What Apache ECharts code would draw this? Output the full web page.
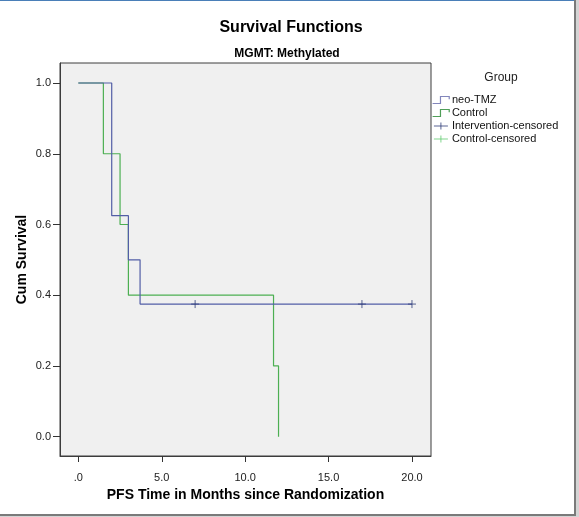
<!DOCTYPE html>
<html>
<head>
<meta charset="utf-8">
<script src="https://cdn.jsdelivr.net/npm/echarts@6/dist/echarts.min.js"></script>
<style>
html,body{margin:0;padding:0;background:#fff;}
#chart{width:579px;height:517px;}
</style>
</head>
<body>
<div id="chart"></div>
<script>
// Kaplan-Meier step data (time in months, cumulative survival)
var tmzTimes = [0, 2.0, 3.0, 3.7, 20.0];
var tmzSurv  = [1.0, 0.625, 0.5, 0.375, 0.375];
var ctrlTimes = [0, 1.5, 2.5, 3.0, 11.7, 12.0];
var ctrlSurv  = [1.0, 0.8, 0.6, 0.4, 0.2, 0.0];
var tmzCensorTimes = [7.0, 17.0, 20.0];
var tmzCensorSurv  = [0.375, 0.375, 0.375];
var ctrlCensorTimes = [];
var ctrlCensorSurv  = [];
var xTicks = [0, 5, 10, 15, 20];
var yTicks = [0, 0.2, 0.4, 0.6, 0.8, 1.0];
var seriesNames = ['neo-TMZ', 'Control', 'Intervention-censored', 'Control-censored'];

function pairs(xs, ys) { return xs.map(function (x, i) { return [x, ys[i]]; }); }

var FONT = 'Liberation Sans, Arial, sans-serif';
var BLUE = '#525ea6', GREEN = '#4caf52';
var BLUE_LEG = '#8286bb', GREEN_LEG = '#4f9e58', NAVY = '#2f3d78', LGREEN = '#62cc70';
var STEP = 'path://M0,8 H9 V0 H19 V3';
var PLUS = 'path://M0,5 H20 M10,0 V10';

var chart = echarts.init(document.getElementById('chart'));
chart.setOption({
  backgroundColor: '#ffffff',
  animation: false,
  title: [
    { text: 'Survival Functions', left: 286, top: 15, textAlign: 'center',
      textStyle: { fontFamily: FONT, fontSize: 16, fontWeight: 'bold', color: '#000' } },
    { text: 'MGMT: Methylated', left: 282, top: 43, textAlign: 'center',
      textStyle: { fontFamily: FONT, fontSize: 12, fontWeight: 'bold', color: '#000' } },
    { text: 'Group', left: 496, top: 67, textAlign: 'center',
      textStyle: { fontFamily: FONT, fontSize: 12, fontWeight: 'normal', color: '#222' } }
  ],
  legend: {
    orient: 'vertical', left: 432, top: 94, padding: 0,
    itemWidth: 20, itemHeight: 7, itemGap: 1,
    textStyle: { fontFamily: FONT, fontSize: 11, color: '#111', padding: [0, 0, 0, -4], lineHeight: 12 },
    data: [
      { name: seriesNames[0], icon: STEP, itemStyle: { color: 'transparent', borderColor: BLUE_LEG, borderWidth: 1.2 } },
      { name: seriesNames[1], icon: STEP, itemStyle: { color: 'transparent', borderColor: GREEN_LEG, borderWidth: 1.2 } },
      { name: seriesNames[2], icon: PLUS, itemStyle: { color: 'transparent', borderColor: NAVY, borderWidth: 1 } },
      { name: seriesNames[3], icon: PLUS, itemStyle: { color: 'transparent', borderColor: LGREEN, borderWidth: 1 } }
    ]
  },
  grid: {
    left: 60, top: 63, width: 371, height: 393,
    show: true, backgroundColor: '#f0f0f0', borderColor: '#3c3c3c', borderWidth: 1
  },
  xAxis: {
    type: 'value', min: -1.1, max: 21.14,
    name: 'PFS Time in Months since Randomization', nameLocation: 'middle', nameGap: 32,
    nameMoveOverlap: false,
    nameTextStyle: { fontFamily: FONT, fontSize: 14, fontWeight: 'bold', color: '#000' },
    axisLine: { show: true, onZero: false, lineStyle: { color: '#3c3c3c' } },
    axisTick: { show: true, length: 6, customValues: xTicks, lineStyle: { color: '#333' } },
    axisLabel: { customValues: xTicks, margin: 16, fontFamily: FONT, fontSize: 11, color: '#222',
      formatter: function (v) { return v === 0 ? '.0' : v.toFixed(1); } },
    splitLine: { show: false }
  },
  yAxis: {
    type: 'value', min: -0.0546, max: 1.0566,
    name: 'Cum Survival', nameLocation: 'middle', nameGap: 31,
    nameMoveOverlap: false,
    nameTextStyle: { fontFamily: FONT, fontSize: 14, fontWeight: 'bold', color: '#000' },
    axisLine: { show: true, onZero: false, lineStyle: { color: '#3c3c3c' } },
    axisTick: { show: true, length: 7, customValues: yTicks, lineStyle: { color: '#333' } },
    axisLabel: { customValues: yTicks, margin: 9, fontFamily: FONT, fontSize: 11, color: '#222',
      formatter: function (v) { return v.toFixed(1); } },
    splitLine: { show: false }
  },
  series: [
    { name: seriesNames[0], type: 'line', step: 'end', data: pairs(tmzTimes, tmzSurv),
      showSymbol: false, symbol: 'none', lineStyle: { color: BLUE, width: 1.2 }, itemStyle: { color: BLUE }, z: 3 },
    { name: seriesNames[1], type: 'line', step: 'end', data: pairs(ctrlTimes, ctrlSurv),
      showSymbol: false, symbol: 'none', lineStyle: { color: GREEN, width: 1.2 }, itemStyle: { color: GREEN }, z: 2 },
    { name: seriesNames[2], type: 'scatter', data: pairs(tmzCensorTimes, tmzCensorSurv),
      symbol: 'path://M5,0 V10 M0,5 H10', symbolSize: 8,
      itemStyle: { color: 'transparent', borderColor: NAVY, borderWidth: 1 }, z: 4 },
    { name: seriesNames[3], type: 'scatter', data: pairs(ctrlCensorTimes, ctrlCensorSurv),
      symbol: 'path://M5,0 V10 M0,5 H10', symbolSize: 8,
      itemStyle: { color: 'transparent', borderColor: LGREEN, borderWidth: 1 }, z: 4 }
  ],
  graphic: [
    { type: 'rect', shape: { x: 0, y: 0, width: 579, height: 1 }, style: { fill: '#4a7fb8' }, silent: true },
    { type: 'rect', shape: { x: 574, y: 0, width: 2, height: 517 }, style: { fill: '#7a7a7a' }, silent: true },
    { type: 'rect', shape: { x: 576, y: 0, width: 3, height: 517 }, style: { fill: '#d4d4d4' }, silent: true },
    { type: 'rect', shape: { x: 0, y: 514, width: 576, height: 2 }, style: { fill: '#7a7a7a' }, silent: true },
    { type: 'rect', shape: { x: 0, y: 516, width: 579, height: 1 }, style: { fill: '#d4d4d4' }, silent: true }
  ]
});
</script>
</body>
</html>
